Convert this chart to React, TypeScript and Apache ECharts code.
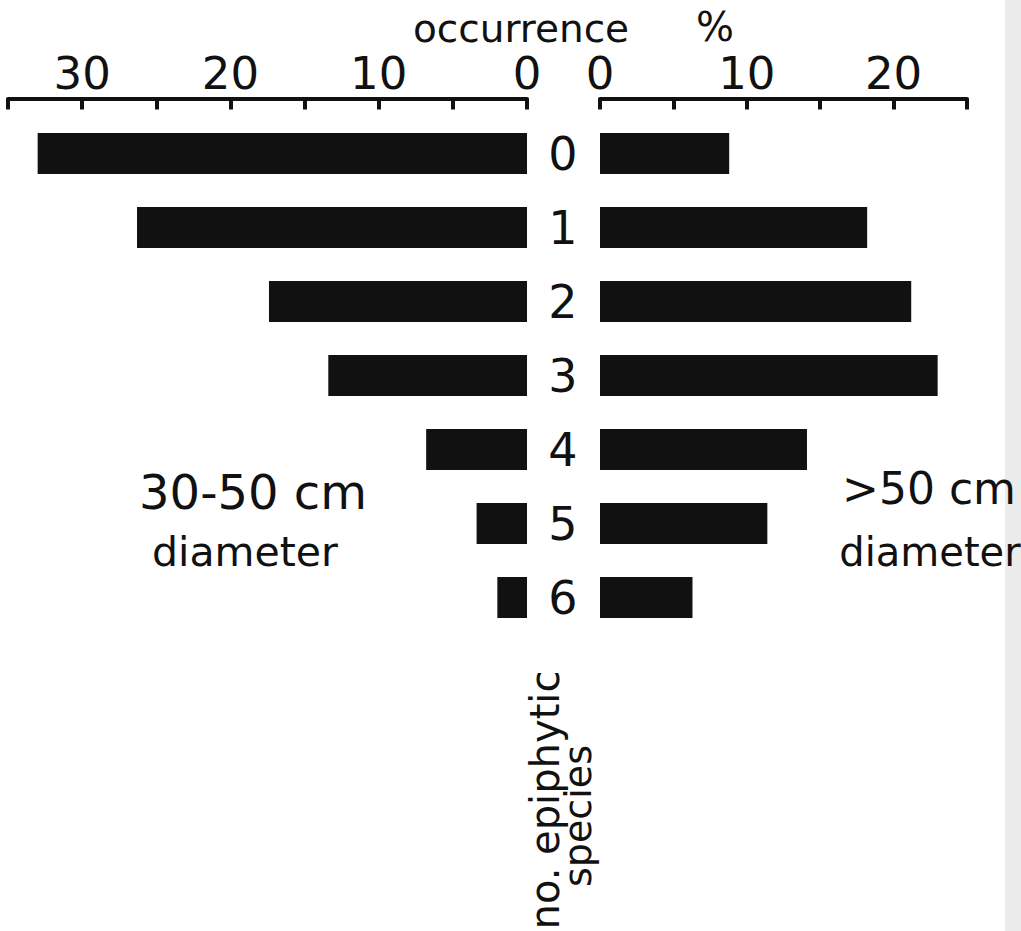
import React, { useEffect, useRef } from "react";
import * as echarts from "echarts";

const categories = ["0", "1", "2", "3", "4", "5", "6"];
const small3050 = [33.0, 26.3, 17.4, 13.4, 6.8, 3.4, 2.0];
const large50 = [8.8, 18.2, 21.2, 23.0, 14.1, 11.4, 6.3];
const leftMax = 35;
const rightMax = 25;
const tickStep = 5;
const labelStep = 10;

const FONT = "'DejaVu Sans', sans-serif";
const INK = "#111";

export default function App() {
  const ref = useRef<HTMLDivElement>(null);
  useEffect(() => {
    document.body.style.margin = "0";
    const chart = echarts.init(ref.current!, null, { renderer: "svg" });
    const fmt = (v: number) => (v % labelStep === 0 ? String(v) : "");
    const xAxisCommon = {
      type: "value",
      position: "top",
      offset: 18,
      min: 0,
      interval: tickStep,
      splitLine: { show: false },
      axisLine: { show: true, lineStyle: { color: INK, width: 4 } },
      axisTick: { show: true, inside: true, length: 11, lineStyle: { color: INK, width: 4 } },
      axisLabel: {
        show: true,
        formatter: fmt,
        color: INK,
        fontFamily: FONT,
        fontSize: 45,
        margin: 3,
      },
    };
    chart.setOption({
      animation: false,
      backgroundColor: "#ffffff",
      grid: [
        { left: 8, right: 494, top: 116.5, height: 518 },
        { left: 600, right: 54, top: 116.5, height: 518 },
      ],
      xAxis: [
        { ...xAxisCommon, gridIndex: 0, inverse: true, max: leftMax },
        { ...xAxisCommon, gridIndex: 1, max: rightMax },
      ],
      yAxis: [
        {
          type: "category",
          gridIndex: 0,
          data: categories,
          inverse: true,
          position: "right",
          axisLine: { show: false },
          axisTick: { show: false },
          axisLabel: {
            show: true,
            align: "center",
            margin: 36,
            color: INK,
            fontFamily: FONT,
            fontSize: 46,
          },
        },
        {
          type: "category",
          gridIndex: 1,
          data: categories,
          inverse: true,
          show: false,
        },
      ],
      series: [
        {
          name: "30-50 cm diameter",
          type: "bar",
          xAxisIndex: 0,
          yAxisIndex: 0,
          data: small3050,
          barWidth: 41,
          itemStyle: { color: INK },
        },
        {
          name: ">50 cm diameter",
          type: "bar",
          xAxisIndex: 1,
          yAxisIndex: 1,
          data: large50,
          barWidth: 41,
          itemStyle: { color: INK },
        },
      ],
      graphic: [
        {
          type: "rect",
          shape: { x: 1005, y: 0, width: 16, height: 931 },
          style: { fill: "#ebebeb" },
          silent: true,
        },
        {
          type: "text",
          x: 521,
          y: 28,
          style: { text: "occurrence", fill: INK, fontFamily: FONT, fontSize: 39, textAlign: "center", textVerticalAlign: "middle" },
        },
        {
          type: "text",
          x: 715,
          y: 27,
          style: { text: "%", fill: INK, fontFamily: FONT, fontSize: 40, textAlign: "center", textVerticalAlign: "middle" },
        },
        {
          type: "text",
          x: 253,
          y: 492,
          style: { text: "30-50 cm", fill: INK, fontFamily: FONT, fontSize: 48, textAlign: "center", textVerticalAlign: "middle" },
        },
        {
          type: "text",
          x: 245,
          y: 552,
          style: { text: "diameter", fill: INK, fontFamily: FONT, fontSize: 41, textAlign: "center", textVerticalAlign: "middle" },
        },
        {
          type: "text",
          x: 929,
          y: 488,
          style: { text: ">50 cm", fill: INK, fontFamily: FONT, fontSize: 44, textAlign: "center", textVerticalAlign: "middle" },
        },
        {
          type: "text",
          x: 930,
          y: 552,
          style: { text: "diameter", fill: INK, fontFamily: FONT, fontSize: 40, textAlign: "center", textVerticalAlign: "middle" },
        },
        {
          type: "text",
          x: 545,
          y: 800,
          rotation: Math.PI / 2,
          style: { text: "no. epiphytic", fill: INK, fontFamily: FONT, fontSize: 40, textAlign: "center", textVerticalAlign: "middle" },
        },
        {
          type: "text",
          x: 578,
          y: 816,
          rotation: Math.PI / 2,
          style: { text: "species", fill: INK, fontFamily: FONT, fontSize: 38, textAlign: "center", textVerticalAlign: "middle" },
        },
      ],
    });
    return () => chart.dispose();
  }, []);
  return <div ref={ref} style={{ width: 1021, height: 931 }} />;
}
